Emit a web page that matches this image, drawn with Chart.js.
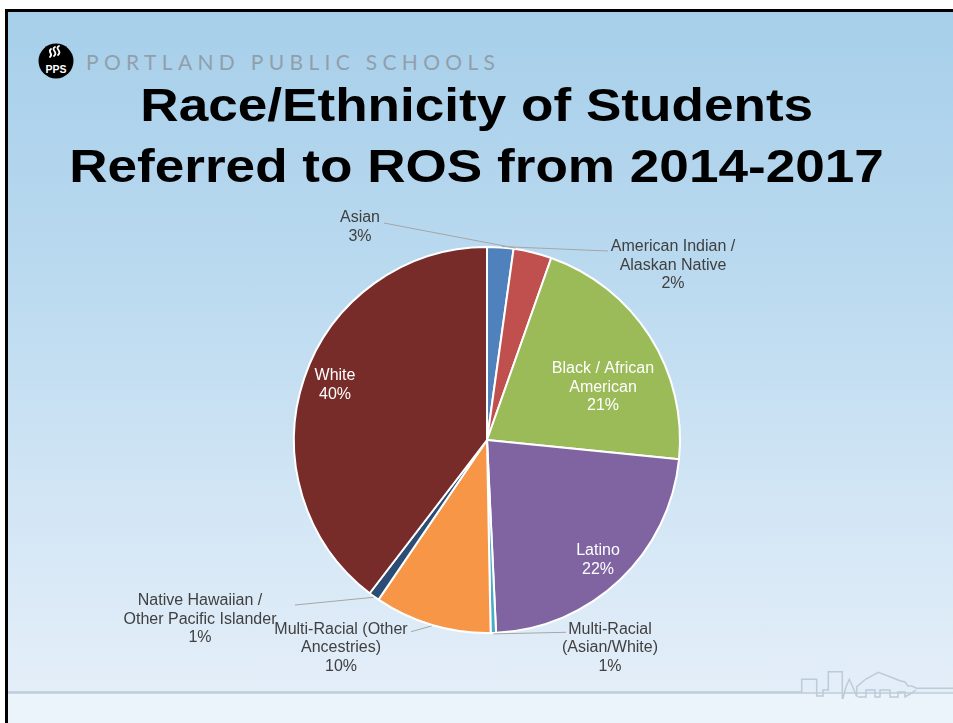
<!DOCTYPE html>
<html>
<head>
<meta charset="utf-8">
<script src="https://cdn.jsdelivr.net/npm/chart.js@4.4.1/dist/chart.umd.min.js"></script>
<style>
  html, body { margin:0; padding:0; width:953px; height:723px; overflow:hidden; background:#ffffff; }
  #slide { position:absolute; left:5px; top:9px; width:970px; height:730px;
    border-left:3px solid #000; border-top:3px solid #000; box-sizing:border-box;
    background:linear-gradient(to bottom, #a7cfea 0px, #b9d9ef 250px, #d3e6f5 500px, #e4eef9 680px); overflow:hidden; }
  #footer { position:absolute; left:0; top:680px; width:100%; height:60px; background:#ebf3fb; border-top:2px solid #c9d6e2; }
  #brand { position:absolute; left:86px; top:47px; font-family:"Lato","Open Sans",sans-serif; font-size:21px;
    color:#919fab; white-space:nowrap; line-height:30px; }
  .title { position:absolute; left:0; width:953px; text-align:center; font-family:"Liberation Sans",Arial,sans-serif;
    font-weight:bold; font-size:47px; line-height:47px; color:#000; white-space:nowrap; }
  .title span { display:inline-block; transform:scaleX(1.13); transform-origin:center; }
  #logo { position:absolute; left:0; top:0; }
  #sky { position:absolute; left:0; top:0; }
  canvas { position:absolute; left:0; top:0; }
</style>
</head>
<body>
<div id="slide"><div id="footer"></div></div>
<svg id="sky" width="953" height="723">
  <polyline fill="none" stroke="#bccbd8" stroke-width="1.5"
    points="8,692 801.7,692 801.7,679.3 816.7,679.3 816.7,696 823,696 823,690 828.3,690 828.3,671.7 842.3,671.7 842.3,698.3 843,698.3 846,686.7 849.3,679.3 852.7,686.7 856.7,696.7 856.7,686.7 866,679 878.3,672.3 890,676.7 900,680.7 905,682 908,686 912,686 916.7,688.3 953,688.3"/>
  <polyline fill="none" stroke="#bccbd8" stroke-width="1.5"
    points="858,697 866,697 866,690 875,690 875,697 880,697 880,690 890,690 890,697 898,697 898,692 905,692 905,697 910,694 916,690"/>
</svg>
<svg id="logo" width="120" height="100">
  <circle cx="56" cy="61" r="17.5" fill="#000"/>
  <path d="M55,47 c-5,3 4,5 -1,9 M59,46 c-5,3 4,5 -1,9 M51,49 c-4,3 3,5 -1,8" stroke="#fff" stroke-width="1.8" fill="none" stroke-linecap="round"/>
  <text x="56" y="72.5" text-anchor="middle" font-family="Liberation Sans, Arial" font-weight="bold" font-size="10.5" fill="#fff">PPS</text>
</svg>
<div id="brand"><span id="brandText">PORTLAND PUBLIC SCHOOLS</span></div>
<div class="title" style="top:81px"><span>Race/Ethnicity of Students</span></div>
<div class="title" style="top:142px"><span>Referred to ROS from 2014-2017</span></div>
<canvas id="c" width="953" height="723"></canvas>
<script>
// ---- data ----
const categories = ["American Indian / Alaskan Native", "Asian", "Black / African American", "Latino",
  "Multi-Racial (Asian/White)", "Multi-Racial (Other Ancestries)", "Native Hawaiian / Other Pacific Islander", "White"];
const shares = [2.2, 3.2, 21.2, 22.65, 0.45, 9.8, 0.9, 39.6];
const percentLabels = ["2%", "3%", "21%", "22%", "1%", "10%", "1%", "40%"];
const labelLines = [
  ["American Indian /", "Alaskan Native"],
  ["Asian"],
  ["Black / African", "American"],
  ["Latino"],
  ["Multi-Racial", "(Asian/White)"],
  ["Multi-Racial (Other", "Ancestries)"],
  ["Native Hawaiian /", "Other Pacific Islander"],
  ["White"]
];
const sliceColors = ["#4F81BD", "#C0504D", "#9BBB59", "#8064A2", "#4BACC6", "#F79646", "#2C4D75", "#772C2A"];

// ---- label layout (offsets from pie centre, px) ----
const labelLayout = [
  { dx: 186, dy: -193, inside: false, lead: { sx: 121, sy: -189, f: 0.55 } },
  { dx: -127, dy: -222, inside: false, lead: { sx: -103, sy: -217, f: 0.05 } },
  { dx: 116, dy: -71, inside: true },
  { dx: 111, dy: 111, inside: true },
  { dx: 123, dy: 189.3, inside: false, lead: { sx: 79, sy: 192.3, f: 0.5 } },
  { dx: -146, dy: 189.3, inside: false, lead: { sx: -76, sy: 191.7, f: 0.5 } },
  { dx: -287, dy: 161, inside: false, lead: { sx: -192, sy: 165, f: 0.5 } },
  { dx: -152, dy: -64, inside: true }
];

// fit brand text letter spacing
(function () {
  const el = document.getElementById('brandText');
  const w = el.getBoundingClientRect().width;
  const n = el.textContent.length;
  el.style.letterSpacing = ((409 - w) / (n - 1)) + 'px';
})();

const labelPlugin = {
  id: 'sliceLabels',
  afterDatasetsDraw(chart) {
    const ctx = chart.ctx;
    const arcs = chart.getDatasetMeta(0).data;
    ctx.save();
    ctx.font = '16px "Liberation Sans", Arial, sans-serif';
    ctx.textAlign = 'center';
    ctx.textBaseline = 'middle';
    arcs.forEach((arc, i) => {
      const p = arc.getProps(['x', 'y', 'startAngle', 'endAngle', 'outerRadius'], true);
      const L = labelLayout[i];
      if (L.lead) {
        const a = p.startAngle + (p.endAngle - p.startAngle) * L.lead.f;
        const ex = p.x + Math.cos(a) * (p.outerRadius + 1);
        const ey = p.y + Math.sin(a) * (p.outerRadius + 1);
        ctx.strokeStyle = '#a6a6a6';
        ctx.lineWidth = 1;
        ctx.beginPath();
        ctx.moveTo(p.x + L.lead.sx, p.y + L.lead.sy);
        ctx.lineTo(ex, ey);
        ctx.stroke();
      }
      const lines = labelLines[i].concat([percentLabels[i]]);
      ctx.fillStyle = L.inside ? '#ffffff' : '#404040';
      lines.forEach((t, k) => {
        ctx.fillText(t, p.x + L.dx, p.y + L.dy + k * 18.5);
      });
    });
    ctx.restore();
  }
};

new Chart(document.getElementById('c'), {
  type: 'pie',
  data: {
    labels: categories,
    datasets: [{
      data: shares,
      backgroundColor: sliceColors,
      borderColor: '#ffffff',
      borderWidth: 2
    }]
  },
  options: {
    responsive: false,
    animation: false,
    layout: { padding: { left: 293, right: 272, top: 246, bottom: 89 } },
    plugins: { legend: { display: false }, tooltip: { enabled: false } }
  },
  plugins: [labelPlugin]
});
</script>
</body>
</html>
